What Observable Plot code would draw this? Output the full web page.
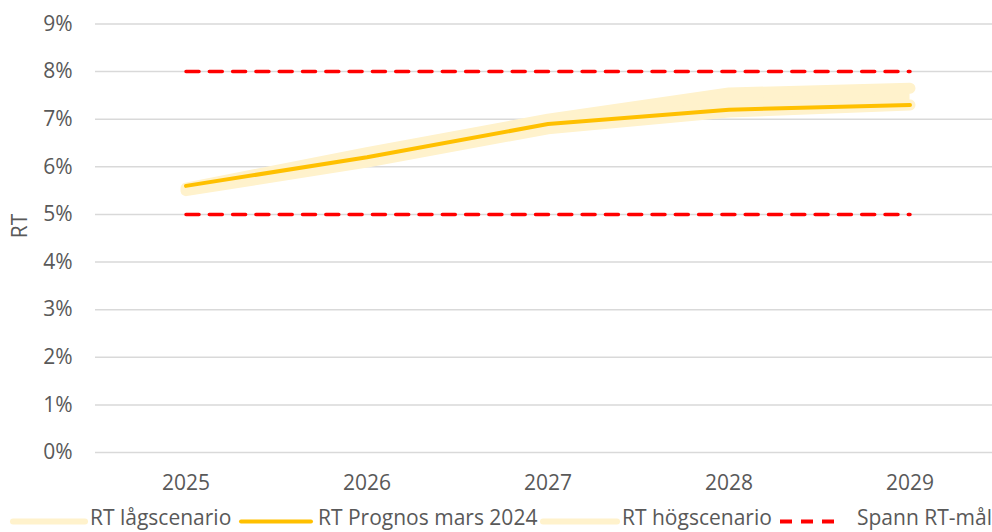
<!DOCTYPE html>
<html>
<head>
<meta charset="utf-8">
<script src="https://cdn.jsdelivr.net/npm/d3@7"></script>
<script src="https://cdn.jsdelivr.net/npm/@observablehq/plot@0.6"></script>
<style>
  html, body { margin: 0; padding: 0; background: #fff; }
  #wrap { position: relative; width: 992px; height: 532px; font-family: "Open Sans", sans-serif; color: #595959; overflow: hidden; }
  #legend { position: absolute; left: 0; top: 500px; width: 992px; height: 32px; }
  .lg { position: absolute; top: 0; height: 32px; }
  .lt { position: absolute; top: 5px; font-size: 21px; line-height: 24px; white-space: nowrap; color: #595959; }
</style>
</head>
<body>
<div id="wrap"><div id="chart"></div><div id="legend"></div></div>
<script>
const years = [2025, 2026, 2027, 2028, 2029];
const prognos = [5.6, 6.2, 6.9, 7.2, 7.3];
const lagscenario = [5.5, 6.1, 6.8, 7.15, 7.3];
const hogscenario = [5.55, 6.3, 7.0, 7.55, 7.65];
const spannLag = [5, 5, 5, 5, 5];
const spannHog = [8, 8, 8, 8, 8];
const yTicks = [0, 1, 2, 3, 4, 5, 6, 7, 8, 9];
const seriesNames = ["RT lågscenario", "RT Prognos mars 2024", "RT högscenario", "Spann RT-mål"];

const LIGHT = "#FFF2CC", GOLD = "#FFC000", RED = "#FF0000", GRID = "#D9D9D9", TXT = "#595959";

const rows = years.map((y, i) => ({
  year: y, prognos: prognos[i], low: lagscenario[i], high: hogscenario[i],
  sLow: spannLag[i], sHigh: spannHog[i]
}));

const chart = Plot.plot({
  width: 992,
  height: 500,
  marginLeft: 95,
  marginRight: 0,
  marginTop: 23.5,
  marginBottom: 48,
  style: { fontFamily: "Open Sans, sans-serif", fontSize: "21px", color: TXT, background: "white", overflow: "visible" },
  x: { type: "linear", domain: [2024.5, 2029.5], range: [95, 1000] },
  y: { domain: [0, 9], range: [452, 23.5] },
  marks: [
    Plot.gridY(yTicks, { stroke: GRID, strokeOpacity: 1, strokeWidth: 1.5 }),
    Plot.areaY(rows, { x: "year", y1: "low", y2: "high", fill: LIGHT }),
    Plot.line(rows, { x: "year", y: "low", stroke: LIGHT, strokeWidth: 11, strokeLinecap: "round", strokeLinejoin: "round" }),
    Plot.line(rows, { x: "year", y: "high", stroke: LIGHT, strokeWidth: 11, strokeLinecap: "round", strokeLinejoin: "round" }),
    Plot.line(rows, { x: "year", y: "prognos", stroke: GOLD, strokeWidth: 4, strokeLinecap: "round", strokeLinejoin: "round" }),
    Plot.line(rows, { x: "year", y: "sHigh", stroke: RED, strokeWidth: 3.5, strokeDasharray: "13,10.3" }),
    Plot.line(rows, { x: "year", y: "sLow", stroke: RED, strokeWidth: 3.5, strokeDasharray: "13,10.3" }),
    Plot.axisY(yTicks, { tickSize: 0, tickPadding: 23, tickFormat: d => d + "%", fill: TXT, fontSize: 21, label: null }),
    Plot.axisX(years, { tickSize: 0, tickPadding: 23, tickFormat: d => String(d), fill: TXT, fontSize: 21, label: null }),
    Plot.text(["RT"], { frameAnchor: "left", dx: -75, rotate: -90, fill: TXT, fontSize: 21 })
  ]
});
document.getElementById("chart").appendChild(chart);

// legend
const legend = document.getElementById("legend");
const items = [
  { name: seriesNames[0], x0: 13, x1: 85, tx: 90, stroke: LIGHT, w: 6, dash: null },
  { name: seriesNames[1], x0: 241, x1: 311, tx: 318, stroke: GOLD, w: 4, dash: null },
  { name: seriesNames[2], x0: 543, x1: 617, tx: 622, stroke: LIGHT, w: 6, dash: null },
  { name: seriesNames[3], x0: 780, x1: 842, tx: 857, stroke: RED, w: 4, dash: "12,9" }
];
const ns = "http://www.w3.org/2000/svg";
items.forEach(it => {
  const svg = document.createElementNS(ns, "svg");
  svg.setAttribute("class", "lg");
  svg.setAttribute("width", it.x1 - it.x0 + 8);
  svg.setAttribute("height", 32);
  svg.style.left = (it.x0 - 4) + "px";
  const ln = document.createElementNS(ns, "line");
  ln.setAttribute("x1", 4); ln.setAttribute("x2", it.x1 - it.x0 + 4);
  ln.setAttribute("y1", 21.5); ln.setAttribute("y2", 21.5);
  ln.setAttribute("stroke", it.stroke);
  ln.setAttribute("stroke-width", it.w);
  ln.setAttribute("stroke-linecap", it.dash ? "butt" : "round");
  if (it.dash) ln.setAttribute("stroke-dasharray", it.dash);
  svg.appendChild(ln);
  legend.appendChild(svg);
  const t = document.createElement("div");
  t.className = "lt";
  t.style.left = it.tx + "px";
  t.textContent = it.name;
  legend.appendChild(t);
});
</script>
</body>
</html>
